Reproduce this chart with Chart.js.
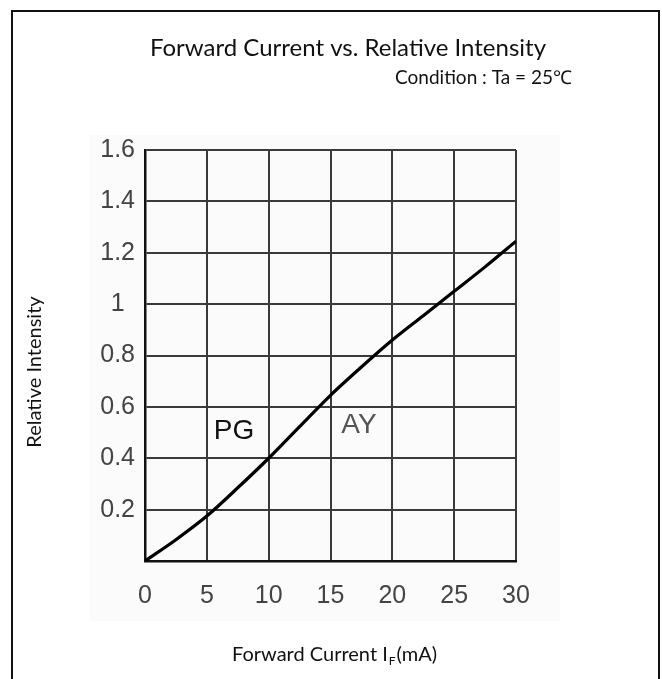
<!DOCTYPE html>
<html><head><meta charset="utf-8">
<script src="https://cdn.jsdelivr.net/npm/chart.js@4"></script>
<style>html,body{margin:0;padding:0;background:#fff;}#wrap{width:662px;height:679px;position:relative;}</style>
</head><body><div id="wrap"><canvas id="c"></canvas></div>
<script>
// ---- data ----
const currentMA    = [0, 2.5, 5, 7.5, 10, 12.5, 15, 17.5, 20, 22.5, 25, 27.5, 30];
const relIntensity = [0, 0.083, 0.175, 0.285, 0.4, 0.523, 0.645, 0.755, 0.86, 0.955, 1.05, 1.145, 1.245];
const xTickLabels  = ['0', '5', '10', '15', '20', '25', '30'];
const yTickLabels  = ['', '0.2', '0.4', '0.6', '0.8', '1', '1.2', '1.4', '1.6'];
const curveTags    = ['PG', 'AY'];
const curveTagX    = [7.2, 17.3];
const curveTagY    = [0.505, 0.53];
const titleText    = 'Forward Current vs. Relative Intensity';
const conditionText = 'Condition : Ta = 25\u2103';
const yTitleText   = 'Relative Intensity';

const SANS = '"Liberation Sans", Arial, sans-serif';

const deco = {
  id: 'deco',
  beforeDraw(chart) {
    const {ctx, chartArea: a} = chart;
    ctx.save();
    ctx.fillStyle = '#ffffff';
    ctx.fillRect(0, 0, chart.width, chart.height);
    ctx.fillStyle = '#fbfbfb';
    ctx.fillRect(a.left - 55, a.top - 15, a.right - a.left + 99, a.bottom - a.top + 75);
    ctx.restore();
  },
  afterDraw(chart) {
    const {ctx, scales} = chart;
    ctx.save();
    // outer frame (open at bottom)
    ctx.strokeStyle = '#111';
    ctx.lineWidth = 2;
    ctx.beginPath();
    ctx.moveTo(12, chart.height + 2); ctx.lineTo(12, 11); ctx.lineTo(659, 11); ctx.lineTo(659, chart.height + 2);
    ctx.stroke();
    // title
    ctx.fillStyle = '#111';
    ctx.textBaseline = 'alphabetic';
    ctx.font = '24px Lato, "Open Sans", sans-serif';
    ctx.textAlign = 'center';
    ctx.fillText(titleText, 348, 56);
    ctx.font = '19px Lato, "Open Sans", sans-serif';
    ctx.textAlign = 'right';
    ctx.fillText(conditionText, 572, 84);
    // y title
    ctx.save();
    ctx.translate(41, 372);
    ctx.rotate(-Math.PI / 2);
    ctx.textAlign = 'center';
    ctx.font = '20px Lato, "Noto Sans", sans-serif';
    ctx.fillText(yTitleText, 0, 0);
    ctx.restore();
    // x title with subscript
    ctx.textAlign = 'left';
    ctx.font = '20px Lato, "Open Sans", sans-serif';
    let x = 232; const base = 661;
    const p1 = 'Forward Current I';
    ctx.fillText(p1, x, base); x += ctx.measureText(p1).width + 1;
    ctx.font = '12px Lato, "Open Sans", sans-serif';
    ctx.fillText('F', x, base + 4); x += ctx.measureText('F').width + 1;
    ctx.font = '20px Lato, "Open Sans", sans-serif';
    ctx.fillText('(mA)', x, base);
    // curve tags
    ctx.textAlign = 'center';
    ctx.textBaseline = 'middle';
    ctx.font = '28px ' + SANS;
    curveTags.forEach((t, i) => {
      ctx.fillStyle = i === 0 ? '#111' : '#555';
      ctx.fillText(t, scales.x.getPixelForValue(curveTagX[i]), scales.y.getPixelForValue(curveTagY[i]));
    });
    ctx.restore();
  }
};

new Chart(document.getElementById('c'), {
  type: 'line',
  data: {
    datasets: [{
      data: currentMA.map((v, i) => ({x: v, y: relIntensity[i]})),
      borderColor: '#000',
      borderWidth: 3.2,
      pointRadius: 0,
      tension: 0.3,
      fill: false
    }]
  },
  options: {
    responsive: true,
    maintainAspectRatio: false,
    animation: false,
    devicePixelRatio: 1,
    layout: {padding: {left: 0, top: 150, right: 146, bottom: 0}},
    plugins: {legend: {display: false}, tooltip: {enabled: false}, title: {display: false}},
    scales: {
      x: {
        type: 'linear', min: 0, max: 30,
        afterFit(s) { s.height = 118; },
        afterBuildTicks(s) { s.ticks = xTickLabels.map(t => ({value: Number(t)})); },
        ticks: {
          padding: 20, color: '#444',
          font: {family: SANS, size: 25},
          callback: (v, i) => xTickLabels[i]
        },
        grid: {color: '#3a3a3a', lineWidth: 2, drawTicks: false},
        border: {color: '#111', width: 2.5}
      },
      y: {
        type: 'linear', min: 0, max: 1.6,
        afterFit(s) { s.width = 145; },
        ticks: {
          stepSize: 0.2, padding: 10, color: '#444', crossAlign: 'center',
          font: {family: SANS, size: 25},
          callback: (v, i) => yTickLabels[i]
        },
        grid: {color: '#3a3a3a', lineWidth: 2, drawTicks: false},
        border: {color: '#111', width: 2.5}
      }
    }
  },
  plugins: [deco]
});
</script></body></html>
